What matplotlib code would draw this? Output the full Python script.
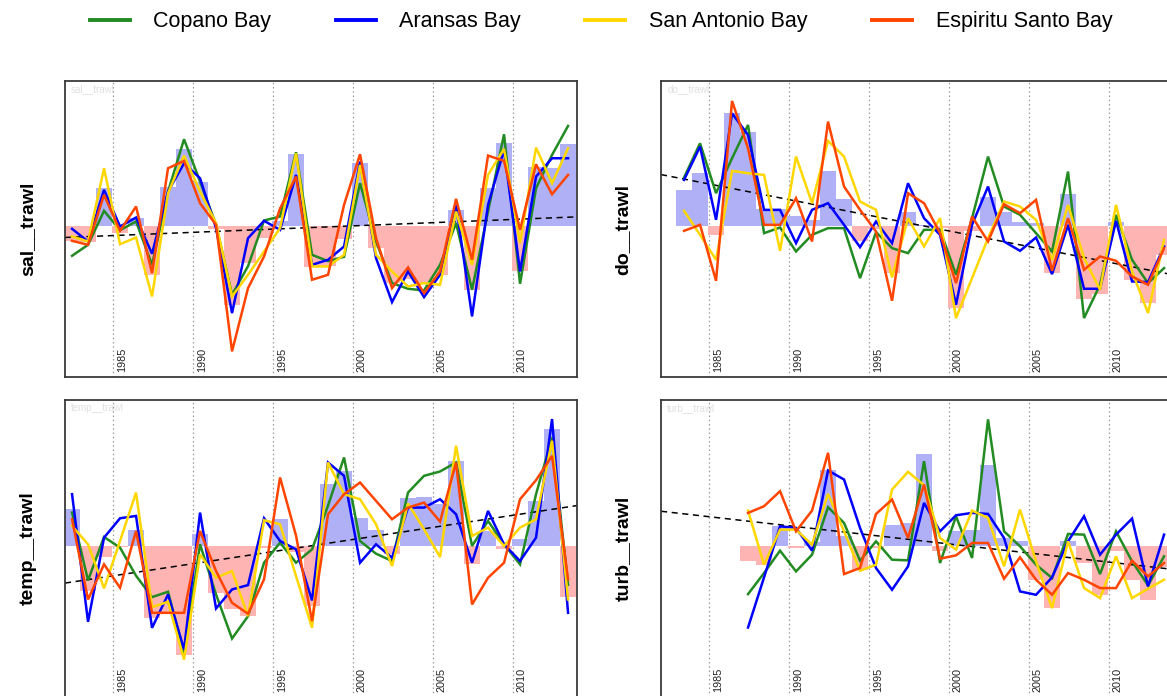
import numpy as np
import matplotlib
matplotlib.use("Agg")
import matplotlib.pyplot as plt
from matplotlib.lines import Line2D
import matplotlib.transforms as mtransforms

# ---------------------------------------------------------------- data
bays = ["Copano Bay", "Aransas Bay", "San Antonio Bay", "Espiritu Santo Bay"]
bay_colors = ["#228B22", "#0000FF", "#FFD700", "#FF4500"]

sal_years = list(range(1982, 2014))
sal_copano = [-0.89, -0.56, 0.46, -0.12, 0.14, -1.16, 1.04, 2.61, 1.34, 0.04, -2.06, -1.2, 0.17, 0.29, 2.22, -0.86,
              -1.05, -0.92, 1.29, -0.46, -1.71, -1.88, -1.93, -1.16, 0.09, -1.91, 0.44, 2.76, -1.73, 1.14, 2.14, 3.01]
sal_aransas = [-0.08, -0.46, 1.09, -0.01, 0.26, -0.83, 1.04, 1.89, 1.44, -0.06, -2.61, -0.36, 0.16, -0.11, 1.54, -1.16,
               -1.01, -0.61, 1.94, -0.96, -2.28, -1.36, -2.13, -1.46, 0.64, -2.71, 0.64, 2.29, -1.36, 1.49, 2.04, 2.04]
sal_sanantonio = [-0.31, -0.46, 1.74, -0.54, -0.34, -2.11, 0.99, 2.12, 1.04, 0.09, -2.11, -1.46, -0.76, -0.06, 2.19, -1.21,
                  -1.21, -0.86, 1.84, -0.86, -1.36, -1.81, -1.71, -1.76, 0.44, -1.16, 1.54, 2.32, -0.51, 2.36, 1.29, 2.34]
sal_espiritu = [-0.44, -0.56, 0.94, -0.14, 0.59, -1.41, 1.74, 1.96, 0.69, 0.04, -3.76, -1.86, -0.91, 0.53, 1.49, -1.61,
                -1.46, 0.64, 2.16, -0.36, -1.86, -1.24, -2.01, -1.36, 0.82, -1.01, 2.12, 1.96, -0.11, 1.86, 0.96, 1.54]
sal_mean = [-0.45, -0.48, 1.14, -0.2, 0.26, -1.46, 1.19, 2.32, 1.32, -0.1, -2.36, -1.1, -0.35, 0.15, 2.16, -1.22,
            -1.2, -0.4, 1.89, -0.66, -1.7, -1.6, -1.75, -1.48, 0.49, -1.91, 1.14, 2.49, -1.36, 1.79, 1.76, 2.46]
sal_trend = [-0.34, 0.28]

do_years = list(range(1983, 2014))
do_copano = [1.46, 2.49, 0.99, 2.04, 3.04, -0.21, -0.04, -0.76, -0.26, -0.06, -0.06, -1.56, -0.18, -0.66, -0.81,
             -0.11, -0.11, -1.46, 0.24, 2.09, 0.59, 0.34, -0.21, -0.76, 1.64, -2.76, -1.76, 0.34, -1.01, -1.71, -1.26]
do_aransas = [1.39, 2.39, 0.19, 3.39, 2.74, 0.49, 0.49, -0.51, 0.49, 0.69, 0.04, -0.63, 0.14, -0.51, 1.29,
              0.24, -0.26, -2.36, 0.04, 1.19, -0.46, -0.74, -0.34, -1.44, 0.04, -1.88, -1.88, 0.16, -1.66, -1.68, -0.61]
do_sanantonio = [0.46, -0.26, -1.01, 1.66, 1.59, 1.54, -0.74, 2.09, 0.69, 2.56, 2.09, 0.74, 0.49, -1.54, 0.24,
                 -0.61, 0.24, -2.76, -1.56, -0.36, 0.74, 0.59, 0.19, -1.01, 0.64, -0.96, -1.91, 0.64, -1.36, -2.61, -0.41]
do_espiritu = [-0.14, 0.04, -1.64, 3.76, 2.34, 0.04, 0.04, 0.84, -0.46, 3.14, 1.19, 0.49, -0.16, -2.24, 0.99,
               0.69, -0.21, -1.71, 0.29, -0.46, 0.66, 0.39, 0.79, -1.34, 0.24, -1.31, -0.91, -1.04, -1.51, -1.76, -0.66]
do_mean = [1.09, 1.61, -0.28, 3.39, 2.84, 0.51, 0.51, 0.3, 0.2, 1.67, 0.82, -0.44, -0.1, -1.41, 0.44,
           0.05, -0.05, -2.46, -0.15, 0.89, 0.44, 0.14, 0.09, -1.41, 0.96, -2.18, -2.04, 0.12, -1.61, -2.31, -0.86]
do_trend = [1.55, -1.46]

temp_years = list(range(1982, 2014))
temp_copano = [0.99, -1.04, 0.26, -0.06, -0.9, -1.54, -1.38, -3.21, 0.04, -1.46, -2.78, -2.11, -0.51, 0.09, -0.51, -0.11,
               1.2, 2.64, 0.14, -0.24, -0.46, 1.59, 2.09, 2.22, 2.49, -0.01, 0.74, 0.04, -0.56, 1.54, 3.24, -1.17]
temp_aransas = [1.54, -2.28, 0.24, 0.82, 0.89, -2.46, -1.46, -3.11, 0.99, -1.88, -1.31, -1.18, 0.82, 0.14, -0.11, -1.64,
                2.49, 2.09, -0.51, 0.04, -0.36, 1.14, 1.14, 1.39, 0.94, -0.51, 1.04, 0.04, -0.46, 0.24, 3.79, -2.01]
temp_sanantonio = [0.59, 0.04, -1.28, 0.14, 1.59, -1.84, -1.68, -3.41, -0.26, -0.96, -0.76, -2.11, 0.76, 0.64, -0.91, -2.46,
                   2.49, 1.54, 1.39, 0.64, -0.61, 1.26, 0.49, -0.34, 2.99, 0.29, 0.54, -0.01, 0.54, 0.79, 3.14, -1.61]
temp_espiritu = [0.79, -1.61, -0.56, -1.26, 0.44, -2.01, -2.01, -2.01, 0.44, -0.76, -1.71, -2.04, -1.01, 2.04, 0.3, -2.26,
                 0.94, 1.54, 1.89, 1.34, 0.79, 1.14, 1.29, 0.72, 2.49, -1.76, -0.96, -0.51, 1.39, 1.96, 2.69, -1.01]
temp_mean = [1.09, -1.36, -0.34, -0.05, 0.46, -2.18, -2.06, -3.26, 0.34, -1.41, -1.91, -2.11, -0.06, 0.79, -0.2, -1.81,
             1.86, 2.22, 0.82, 0.46, -0.24, 1.42, 1.46, 1.24, 2.54, -0.54, 0.44, -0.11, 0.19, 1.34, 3.49, -1.54]
temp_trend = [-1.12, 1.20]

turb_years = list(range(1987, 2014))
turb_copano = [-1.45, -0.82, -0.15, -0.77, -0.27, 1.15, 0.68, -0.45, 0.13, -0.42, -0.44, 2.53, -0.52, 0.88,
               -0.37, 3.78, 0.43, -0.02, -0.57, -0.97, 0.35, 0.33, -0.85, 0.43, -0.47, -1.19, -0.32]
turb_aransas = [-2.45, -0.95, 0.58, 0.53, -0.15, 2.25, 1.98, 0.53, -0.67, -1.32, -0.62, 1.28, 0.43, 0.91,
                0.98, 0.95, 0.23, -1.37, -1.47, -0.95, 0.13, 0.88, -0.27, 0.33, 0.81, -1.22, 0.33]
turb_sanantonio = [1.05, -0.57, 0.48, 0.48, 0.03, 1.55, 0.43, -0.75, -0.57, 1.68, 2.21, 1.81, 0.23, -0.12,
                   1.05, 0.83, -0.62, 1.08, -0.47, -1.87, 0.13, -1.27, -1.57, -0.32, -1.57, -1.29, -1.02]
turb_espiritu = [0.98, 1.18, 1.63, 0.43, 1.05, 2.78, -0.85, -0.67, 0.95, 1.38, 0.23, 1.83, -0.39, -0.29,
                 0.08, 0.08, -0.99, -0.35, -1.02, -1.47, -0.82, -1.02, -1.27, -1.27, -0.45, -0.92, -0.52]
turb_mean = [-0.47, -0.59, 0.58, -0.07, 0.1, 2.25, 0.3, -0.72, -0.07, 0.63, 0.68, 2.73, -0.17, 0.43,
             0.48, 2.41, 0.23, 0.15, -1.02, -1.87, 0.15, -0.52, -1.47, -0.17, -1.02, -1.62, -0.65]
turb_trend = [1.03, -0.71]

grid_years = [1985, 1990, 1995, 2000, 2005, 2010]

# ---------------------------------------------------------------- layout
plt.rcParams['font.family'] = ['Liberation Sans', 'DejaVu Sans']

W, H = 1167, 696
fig = plt.figure(figsize=(W / 100, H / 100), dpi=100)

X_LIM = (1982.0, 2014.0)
Y_LIM = (-4.53, 4.36)
MID_YEAR = 0.44          # annual values are plotted inside their year
POS_COLOR = "#b0b0f7"
NEG_COLOR = "#ffb4b4"


def px_box(left, top, right, bottom):
    return [left / W, 1 - bottom / H, (right - left) / W, (bottom - top) / H]


panels = [
    ("sal__trawl", px_box(65, 81, 577, 377), sal_years,
     [sal_copano, sal_aransas, sal_sanantonio, sal_espiritu], sal_mean, sal_trend, (28, 229)),
    ("do__trawl", px_box(661, 81, 1173, 377), do_years,
     [do_copano, do_aransas, do_sanantonio, do_espiritu], do_mean, do_trend, (623, 229)),
    ("temp__trawl", px_box(65, 400, 577, 697), temp_years,
     [temp_copano, temp_aransas, temp_sanantonio, temp_espiritu], temp_mean, temp_trend, (28, 548)),
    ("turb__trawl", px_box(661, 400, 1173, 697), turb_years,
     [turb_copano, turb_aransas, turb_sanantonio, turb_espiritu], turb_mean, turb_trend, (623, 548)),
]

draw_order = [0, 1, 3, 2]

for name, rect, years, series, mean, trend, label_xy in panels:
    ax = fig.add_axes(rect)
    x = np.asarray(years, dtype=float) + MID_YEAR
    mean = np.asarray(mean)

    # yearly mean anomaly as bars around zero
    ax.bar(x, mean, width=1.0, color=[POS_COLOR if v >= 0 else NEG_COLOR for v in mean],
           linewidth=0, zorder=1)

    for gy in grid_years:
        ax.axvline(gy, color="#9a9a9a", lw=0.9, ls=(0, (1.2, 2.2)), zorder=0.5)

    ax.plot(X_LIM, trend, color="black", lw=1.1, ls=(0, (4, 3)), zorder=2)

    for i in draw_order:
        ax.plot(x, series[i], color=bay_colors[i], lw=1.8, zorder=3 + i * 0.01,
                solid_joinstyle="miter")

    ax.set_xlim(*X_LIM)
    ax.set_ylim(*Y_LIM)
    ax.set_xticks([])
    ax.set_yticks([])
    for sp in ax.spines.values():
        sp.set_color("#3a3a3a")
        sp.set_linewidth(1.3)

    trans = mtransforms.blended_transform_factory(ax.transData, ax.transAxes)
    for gy in grid_years:
        ax.text(gy + 0.56, 5 / 296, str(gy), transform=trans, rotation=90,
                ha="center", va="bottom", fontsize=7.8, color="#222222")

    ax.text(0.012, 0.99, name, transform=ax.transAxes, ha="left", va="top",
            fontsize=7, color="#e0e0e0")

    fig.text(label_xy[0] / W, 1 - label_xy[1] / H, name, rotation=90,
             ha="center", va="center", fontsize=14, fontweight="bold")

handles = [Line2D([0], [0], color=c, lw=2.8) for c in bay_colors]
fig.legend(handles, bays, loc="center", bbox_to_anchor=(601 / W, 1 - 22 / H), ncol=4,
           frameon=False, fontsize=15.5, handlelength=1.85, handletextpad=1.1,
           columnspacing=3.0)

fig.savefig("out.png", dpi=100)
